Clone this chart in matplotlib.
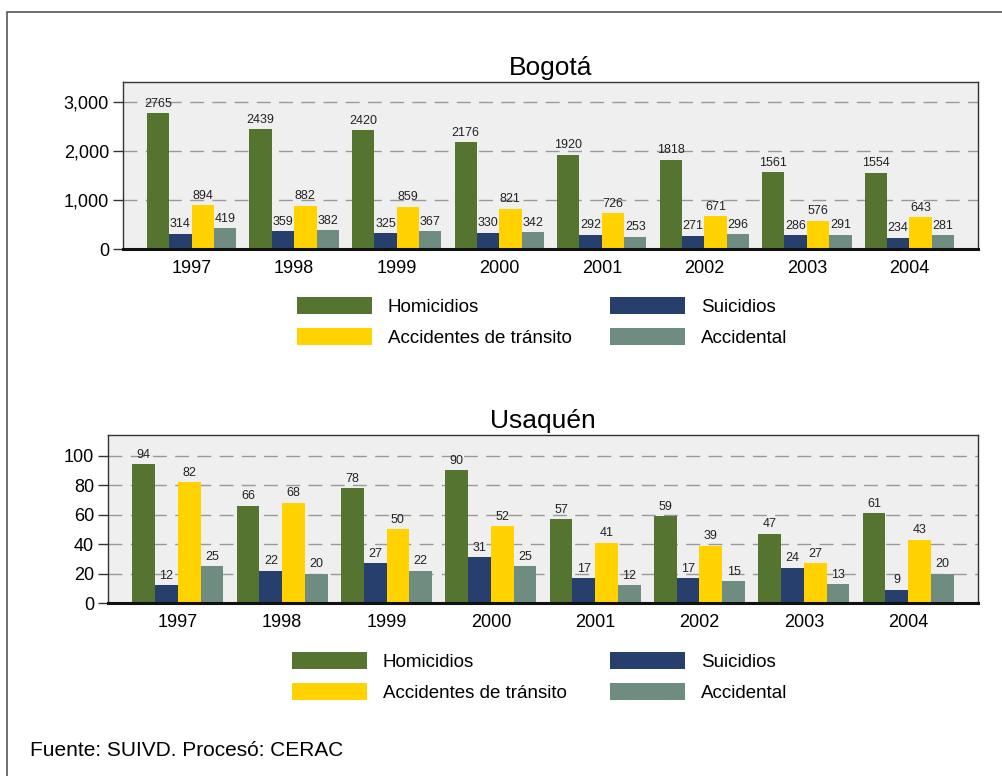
import numpy as np
import matplotlib.pyplot as plt
from matplotlib.patches import Rectangle
from matplotlib.ticker import FuncFormatter

plt.rcParams['font.family'] = ['Liberation Sans', 'DejaVu Sans']

years = ['1997', '1998', '1999', '2000', '2001', '2002', '2003', '2004']
series = ['Homicidios', 'Suicidios', 'Accidentes de tránsito', 'Accidental']
colors = ['#557430', '#273f6d', '#ffd200', '#6e8d80']

bogota_homicidios = [2765, 2439, 2420, 2176, 1920, 1818, 1561, 1554]
bogota_suicidios = [314, 359, 325, 330, 292, 271, 286, 234]
bogota_transito = [894, 882, 859, 821, 726, 671, 576, 643]
bogota_accidental = [419, 382, 367, 342, 253, 296, 291, 281]

usaquen_homicidios = [94, 66, 78, 90, 57, 59, 47, 61]
usaquen_suicidios = [12, 22, 27, 31, 17, 17, 24, 9]
usaquen_transito = [82, 68, 50, 52, 41, 39, 27, 43]
usaquen_accidental = [25, 20, 22, 25, 12, 15, 13, 20]


def draw_panel(ax, title, data, ymax, yticks, fmt):
    x = np.arange(len(years))
    w = 0.218
    handles = []
    for i, (vals, col, name) in enumerate(zip(data, colors, series)):
        pos = x + (i - 1.5) * w
        bars = ax.bar(pos, vals, w, color=col, label=name, zorder=2)
        handles.append(bars)
        for p, v in zip(pos, vals):
            ax.text(p, v + ymax * 0.02, str(v), ha='center', va='bottom',
                    fontsize=9, color='#222222', zorder=3)
    ax.set_xlim(-0.67, len(years) - 1 + 0.67)
    ax.set_ylim(0, ymax)
    ax.set_facecolor('#efefef')
    ax.set_yticks(yticks)
    ax.yaxis.set_major_formatter(FuncFormatter(fmt))
    ax.set_xticks(x)
    ax.set_xticklabels(years)
    ax.tick_params(axis='x', length=0, labelsize=13, pad=8)
    ax.tick_params(axis='y', length=7, width=1, color='#333333',
                   labelsize=13, pad=3)
    for yt in yticks[1:]:
        ax.axhline(yt, color='#999999', lw=1, linestyle=(0, (10, 6)),
                   zorder=1)
    for s in ['left', 'top', 'right']:
        ax.spines[s].set_color('#333333')
        ax.spines[s].set_linewidth(1)
    ax.spines['bottom'].set_color('#111111')
    ax.spines['bottom'].set_linewidth(2.2)
    ax.set_title(title, fontsize=19, pad=5)
    return handles


fig = plt.figure(figsize=(10.03, 7.76), dpi=100)

# outer frame
fig.patches.append(Rectangle((7 / 1003, -0.05), 1.1, 1 - 12 / 776 + 0.05,
                             transform=fig.transFigure, fill=False,
                             edgecolor='#555555', lw=1.2))

ax1 = fig.add_axes([0.1226, 0.6791, 0.8525, 0.2152])
h1 = draw_panel(ax1, 'Bogotá',
                [bogota_homicidios, bogota_suicidios, bogota_transito,
                 bogota_accidental],
                3400, [0, 1000, 2000, 3000], lambda v, p: f'{int(v):,}')

ax2 = fig.add_axes([0.1077, 0.2229, 0.8674, 0.2165])
h2 = draw_panel(ax2, 'Usaquén',
                [usaquen_homicidios, usaquen_suicidios, usaquen_transito,
                 usaquen_accidental],
                114, [0, 20, 40, 60, 80, 100], lambda v, p: f'{int(v)}')

order = [0, 2, 1, 3]
leg_kw = dict(ncol=2, frameon=False, fontsize=13.5, handlelength=4.0,
              handleheight=1.05, handletextpad=0.85,
              labelspacing=0.62, borderpad=0, borderaxespad=0,
              loc='upper left')
fig.legend([h1[i] for i in order], [series[i] for i in order],
           bbox_to_anchor=(297 / 1003, 1 - 297 / 776), columnspacing=2.03,
           **leg_kw)
fig.legend([h2[i] for i in order], [series[i] for i in order],
           bbox_to_anchor=(292 / 1003, 1 - 652 / 776), columnspacing=2.3,
           **leg_kw)

fig.text(30 / 1003, 1 - 750 / 776, 'Fuente: SUIVD. Procesó: CERAC',
         fontsize=15, va='center', ha='left')

fig.savefig('out.png', dpi=100)
